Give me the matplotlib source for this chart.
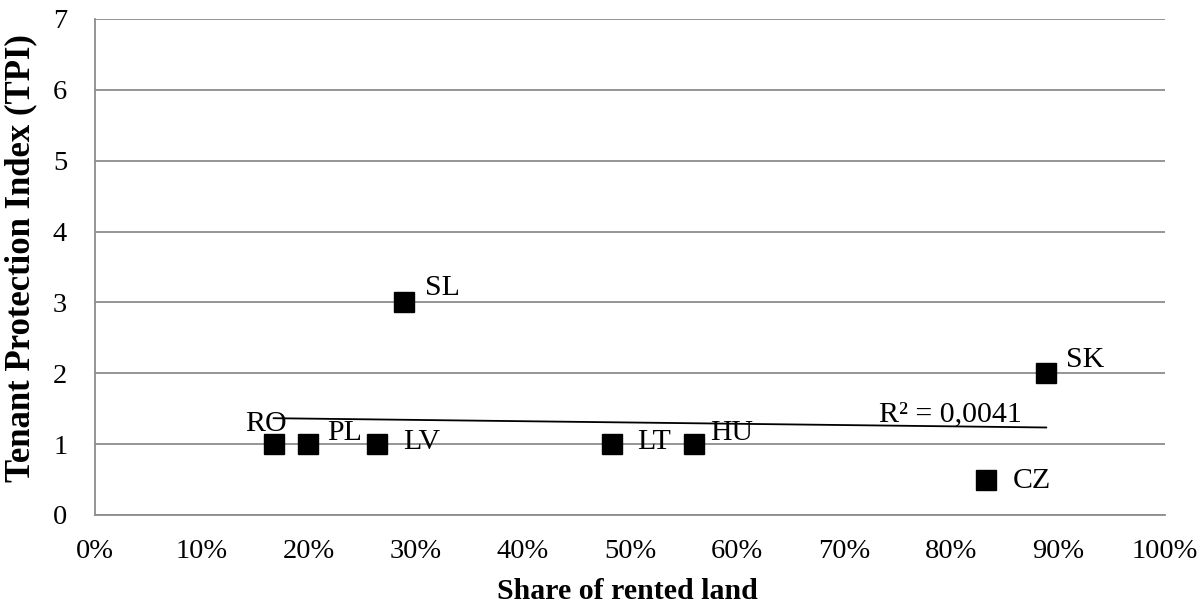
import numpy as np
import matplotlib.pyplot as plt
from matplotlib.ticker import PercentFormatter

# data
countries = ['RO', 'PL', 'LV', 'SL', 'LT', 'HU', 'CZ', 'SK']
rented_share = [16.7, 19.9, 26.4, 28.9, 48.3, 56.0, 83.3, 88.9]
tpi = [1, 1, 1, 3, 1, 1, 0.5, 2]
r2_label = 'R² = 0,0041'

# label offsets in pixels (dx, dy) and alignment
label_offsets = {
    'RO': (-8, 20, 'center'), 'PL': (19, 11, 'left'), 'LV': (26, 2, 'left'),
    'SL': (21, 14, 'left'), 'LT': (25, 2, 'left'), 'HU': (16, 11, 'left'),
    'CZ': (26, -1, 'left'), 'SK': (20, 13, 'left'),
}

plt.rcParams['font.family'] = ['Liberation Serif', 'DejaVu Serif']
fs_tick = 20.5
fs_lbl = 21.5

fig = plt.figure(figsize=(12.04, 6.07), dpi=100)
ax = fig.add_axes([0.0789, 0.1516, 0.8887, 0.8171])

ax.set_xlim(0, 100)
ax.set_ylim(0, 7)
ax.set_xticks(np.arange(0, 101, 10))
ax.set_yticks(np.arange(0, 8, 1))
ax.xaxis.set_major_formatter(PercentFormatter(decimals=0))
ax.grid(axis='y', color='#8c8c8c', linewidth=1.3)
ax.set_axisbelow(True)
for s in ['top', 'right']:
    ax.spines[s].set_visible(False)
for s in ['left', 'bottom']:
    ax.spines[s].set_color('#8c8c8c')
    ax.spines[s].set_linewidth(1.3)
ax.tick_params(length=0, labelsize=fs_tick)
ax.tick_params(axis='x', pad=17)
ax.tick_params(axis='y', pad=20)

ax.plot(rented_share, tpi, 's', color='black', markersize=14, zorder=3)

# linear trendline
slope, icpt = np.polyfit(rented_share, tpi, 1)
xs = np.array([min(rented_share), max(rented_share)])
ax.plot(xs, slope * xs + icpt, color='black', linewidth=1.3, zorder=2)

for c, x, y in zip(countries, rented_share, tpi):
    dx, dy, ha = label_offsets[c]
    ax.annotate(c, (x, y), xytext=(dx * 0.72, dy * 0.72), textcoords='offset points',
                ha=ha, va='center', fontsize=fs_lbl)

ax.text(73.3, 1.42, r2_label, fontsize=fs_lbl, va='center', ha='left')

ax.set_xlabel('Share of rented land', fontsize=21.5, fontweight='bold')
ax.xaxis.set_label_coords(0.498, -0.127)
ax.set_ylabel('Tenant Protection Index (TPI)', fontsize=25, fontweight='bold')
ax.yaxis.set_label_coords(-0.054, 0.518)

fig.savefig('out.png', dpi=100)
